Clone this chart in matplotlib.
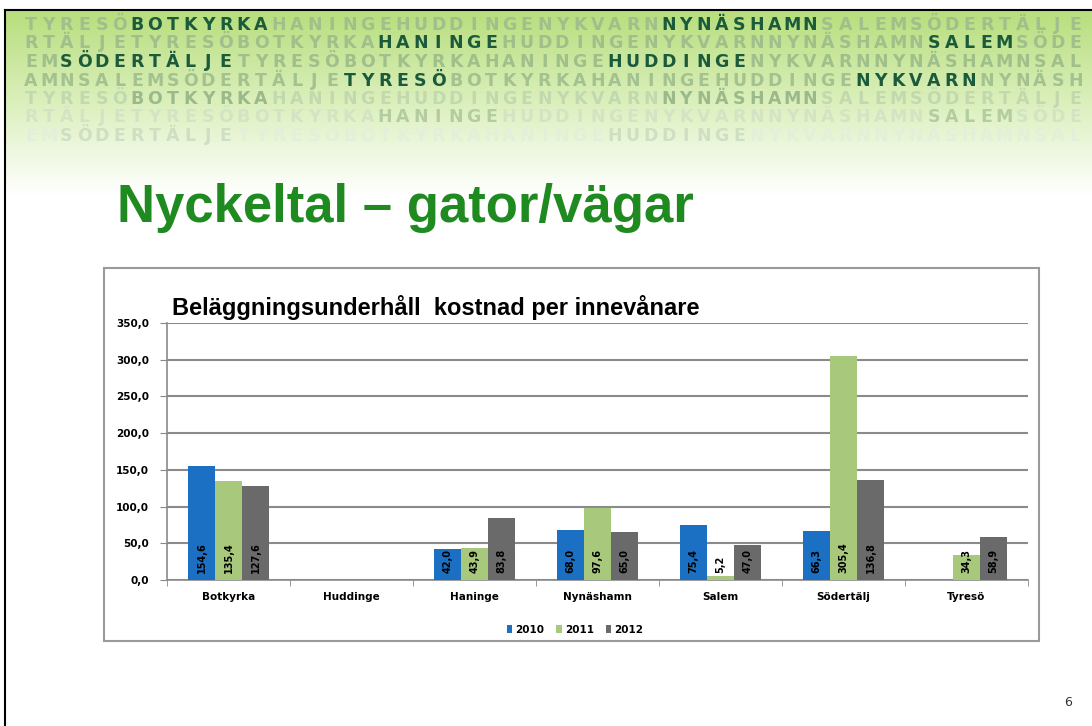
import numpy as np
import matplotlib
matplotlib.use('Agg')
import matplotlib.pyplot as plt
from matplotlib.patches import Rectangle

# data
kommuner = ['Botkyrka', 'Huddinge', 'Haninge', 'Nynäshamn', 'Salem', 'Södertälj', 'Tyresö']
ar = ['2010', '2011', '2012']
v2010 = [154.6, np.nan, 42.0, 68.0, 75.4, 66.3, np.nan]
v2011 = [135.4, np.nan, 43.9, 97.6, 5.2, 305.4, 34.3]
v2012 = [127.6, np.nan, 83.8, 65.0, 47.0, 136.8, 58.9]
yticks = [0, 50, 100, 150, 200, 250, 300, 350]
farger = ['#1b70c4', '#a8c97c', '#6a6a6a']

# header rows (text, highlighted words)
rader = [
    ('TYRESÖBOTKYRKAHANINGEHUDDINGENYKVARNNYNÄSHAMNSALEMSÖDERTÄLJE', ['BOTKYRKA', 'NYNÄSHAMN']),
    ('RTÄLJETYRESÖBOTKYRKAHANINGEHUDDINGENYKVARNNYNÄSHAMNSALEMSÖDE', ['HANINGE', 'SALEM']),
    ('EMSÖDERTÄLJETYRESÖBOTKYRKAHANINGEHUDDINGENYKVARNNYNÄSHAMNSAL', ['SÖDERTÄLJE', 'HUDDINGE']),
    ('AMNSALEMSÖDERTÄLJETYRESÖBOTKYRKAHANINGEHUDDINGENYKVARNNYNÄSH', ['TYRESÖ', 'NYKVARN']),
    ('TYRESÖBOTKYRKAHANINGEHUDDINGENYKVARNNYNÄSHAMNSALEMSÖDERTÄLJE', ['BOTKYRKA', 'NYNÄSHAMN']),
    ('RTÄLJETYRESÖBOTKYRKAHANINGEHUDDINGENYKVARNNYNÄSHAMNSALEMSÖDE', ['HANINGE', 'SALEM']),
    ('EMSÖDERTÄLJETYRESÖBOTKYRKAHANINGEHUDDINGENYKVARNNYNÄSHAMNSAL', ['SÖDERTÄLJE', 'HUDDINGE']),
]
ljus = ['#9fbf8b', '#9fbf8b', '#9fbf8b', '#a3c28f', '#c2d9b0', '#d2e4c3', '#e4efda']
mork = ['#1b5b3c', '#1b5b3c', '#1b5b3c', '#1b5b3c', '#9cb98b', '#b3cca2', '#cfdfc3']

W, H = 1092, 726
fig = plt.figure(figsize=(W / 100, H / 100), dpi=100)
bg = fig.add_axes([0, 0, 1, 1], zorder=0)
bg.set_xlim(0, W)
bg.set_ylim(H, 0)
bg.axis('off')

# gradient header
n = 200
t = np.linspace(0, 1, n)
top = np.array([0.72, 0.87, 0.49])
mid = np.array([0.86, 0.94, 0.74])
c = np.where(t[:, None] < 0.5, top + (mid - top) * (t[:, None] / 0.5),
             mid + (1 - mid) * ((t[:, None] - 0.5) / 0.5))
bg.imshow(c[:, None, :], extent=[6, W, 195, 11], aspect='auto', zorder=0)

# letters
for r, (txt, hl) in enumerate(rader):
    mask = np.zeros(len(txt), bool)
    for w in hl:
        i = txt.find(w)
        while i >= 0 and i < len(txt):
            mask[i:i + len(w)] = True
            break
    y = 25 + r * 18.5
    for i, ch in enumerate(txt):
        x = 31 + i * 17.7
        if x > W + 10:
            break
        bg.text(x, y, ch, ha='center', va='center', fontsize=12.5, fontweight='bold',
                family='DejaVu Sans', color=mork[r] if mask[i] else ljus[r], zorder=1)

# slide frame
bg.plot([5, 5], [10, H], color='black', lw=1.5, zorder=3)
bg.plot([5, W], [10, 10], color='black', lw=1.5, zorder=3)

# title
bg.text(117, 222, 'Nyckeltal – gator/vägar', fontsize=38, fontweight='bold',
        family='Liberation Sans', color='#1f8a1f', va='baseline', ha='left', zorder=2)
bg.text(1068, 703, '6', fontsize=9, color='#333333', ha='center', va='center')

# chart box
bg.add_patch(Rectangle((104, 268), 1039 - 104, 641 - 268, facecolor='white',
                       edgecolor='#9a9a9a', lw=1.5, zorder=1))
bg.text(172, 315, 'Beläggningsunderhåll  kostnad per innevånare', fontsize=17,
        fontweight='bold', family='Liberation Sans', va='baseline', ha='left', zorder=2)

# bar chart
L, R, T, B = 167, 1028, 323, 580
ax = fig.add_axes([L / W, 1 - B / H, (R - L) / W, (B - T) / H], zorder=2)
ax.patch.set_alpha(0)
x = np.arange(len(kommuner))
bw = 0.22
for k, (vals, f) in enumerate(zip([v2010, v2011, v2012], farger)):
    pos = x + (k - 1) * bw
    ax.bar(pos, vals, bw, color=f, label=ar[k], zorder=3)
    for p, v in zip(pos, vals):
        if np.isnan(v):
            continue
        ax.annotate(f'{v:.1f}'.replace('.', ','), (p, 0), xytext=(0, 5),
                    textcoords='offset points', rotation=90, ha='center', va='bottom',
                    fontsize=7, fontweight='bold', color='black', zorder=4)

ax.set_xlim(-0.5, len(kommuner) - 0.5)
ax.set_ylim(0, 350)
ax.set_yticks(yticks)
ax.set_yticklabels([f'{v},0' for v in yticks], fontsize=7.5, fontweight='bold')
ax.set_xticks(x)
ax.set_xticklabels(kommuner, fontsize=7.5, fontweight='bold')
ax.set_xticks(np.arange(-0.5, len(kommuner)), minor=True)
ax.tick_params(axis='x', which='major', length=0, pad=9)
ax.tick_params(axis='x', which='minor', length=4, color='#888888', direction='out')
ax.tick_params(axis='y', length=5, color='#888888', pad=8)
ax.grid(axis='y', color='#8a8a8a', lw=1.5, zorder=1)
for s in ['top', 'right']:
    ax.spines[s].set_visible(False)
for s in ['left', 'bottom']:
    ax.spines[s].set_color('#8a8a8a')
    ax.spines[s].set_linewidth(1.2)

leg = ax.legend(loc='center', bbox_to_anchor=(575 / W, 1 - 630 / H), bbox_transform=fig.transFigure,
                ncol=3, frameon=False, fontsize=7.5, handlelength=0.5, handleheight=0.8,
                handletextpad=0.3, columnspacing=1.2, prop={'weight': 'bold', 'size': 7.5})

fig.savefig('out.png', dpi=100)
